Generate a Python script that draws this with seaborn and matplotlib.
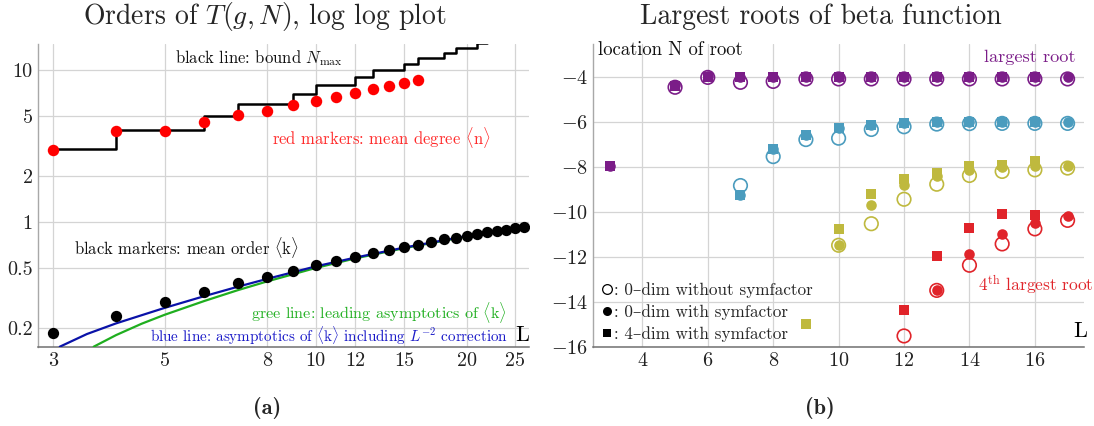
import numpy as np
import pandas as pd
import matplotlib
matplotlib.use("Agg")
import matplotlib.pyplot as plt
import seaborn as sns
from matplotlib.lines import Line2D
from matplotlib.ticker import FixedLocator, FixedFormatter, NullLocator, MultipleLocator

# ---------------- data, panel (a) ----------------
L_nmax = [3, 4, 5, 6, 7, 8, 9, 10, 11, 12, 13, 14, 15, 16, 17, 18, 19, 20, 21, 22]
N_max = [3, 4, 4, 5, 6, 6, 7, 8, 8, 9, 10, 10, 11, 12, 12, 13, 14, 14, 15, 15]

L_deg = [3, 4, 5, 6, 7, 8, 9, 10, 11, 12, 13, 14, 15, 16]
mean_degree = [2.98, 3.95, 3.95, 4.57, 5.08, 5.40, 5.91, 6.22, 6.68, 7.06, 7.46, 7.85, 8.17, 8.59]

L_ord = list(range(3, 27))
mean_order = [0.186, 0.242, 0.299, 0.348, 0.396, 0.437, 0.479, 0.519, 0.554, 0.589,
              0.623, 0.652, 0.682, 0.709, 0.739, 0.770, 0.789, 0.813, 0.838, 0.856,
              0.873, 0.890, 0.909, 0.931]

L_blue = [3.09, 3.5, 4, 5, 6, 7, 8, 10, 12, 15, 20, 26.6]
k_blue = [0.151, 0.183, 0.215, 0.272, 0.325, 0.375, 0.422, 0.510, 0.583, 0.678, 0.808, 0.935]

L_green = [3.61, 4, 4.5, 5, 6, 7, 8, 10, 12, 15, 20, 26.6]
k_green = [0.151, 0.180, 0.214, 0.245, 0.302, 0.356, 0.406, 0.498, 0.576, 0.672, 0.803, 0.930]

x_ticks_a = [3, 5, 8, 10, 12, 15, 20, 25]
y_ticks_a = [0.2, 0.5, 1, 2, 5, 10]
y_ticklabels_a = ["0.2", "0.5", "1", "2", "5", "10"]

# ---------------- data, panel (b) ----------------
nan = np.nan
L_b = list(range(3, 18))
root1_open = [nan, nan, -4.44, -4.00, -4.22, -4.18, -4.07, -4.07, -4.07, -4.07, -4.07, -4.07, -4.07, -4.07, -4.07]
root1_fill = [-7.97, nan, -4.34, -3.96, -4.00, -4.00, -4.00, -4.00, -4.00, -4.00, -4.00, -4.00, -4.00, -4.00, -4.00]
root1_sq = [-7.95, nan, -4.38, -3.97, -3.98, -3.98, -4.00, -4.00, -4.00, -4.00, -4.00, -4.00, -4.00, -4.00, nan]

root2_open = [nan, nan, nan, nan, -8.82, -7.53, -6.77, -6.71, -6.32, -6.20, -6.08, -6.06, -6.05, -6.05, -6.05]
root2_fill = [nan, nan, nan, nan, -9.22, -7.20, -6.55, -6.26, -6.10, -6.04, -6.01, -6.00, -6.00, -6.00, -6.00]
root2_sq = [nan, nan, nan, nan, -9.25, -7.17, -6.55, -6.24, -6.12, -6.02, -5.99, -5.99, -5.99, -5.99, nan]

root3_open = [nan, nan, nan, nan, nan, nan, nan, -11.48, -10.52, -9.43, -8.76, -8.37, -8.19, -8.12, -8.04]
root3_fill = [nan, nan, nan, nan, nan, nan, nan, -11.48, -9.68, -8.80, -8.40, -8.12, -8.01, -7.97, -7.97]
root3_sq = [nan, nan, nan, nan, nan, nan, -15.0, -10.75, -9.18, -8.52, -8.24, -7.94, -7.90, -7.72, nan]

root4_open = [nan, nan, nan, nan, nan, nan, nan, nan, nan, -15.52, -13.49, -12.37, -11.42, -10.75, -10.37]
root4_fill = [nan, nan, nan, nan, nan, nan, nan, nan, nan, nan, -13.46, -11.87, -11.00, -10.49, -10.19]
root4_sq = [nan, nan, nan, nan, nan, nan, nan, nan, nan, -14.37, -11.94, -10.71, -10.09, -10.15, nan]

# ---------------- style ----------------
sns.set_style("whitegrid")
plt.rcParams["font.family"] = ["cmr10", "DejaVu Serif"]
plt.rcParams["mathtext.fontset"] = "cm"
plt.rcParams["axes.formatter.use_mathtext"] = True
plt.rcParams["axes.unicode_minus"] = True

W, H = 1094, 426
fig = plt.figure(figsize=(W / 100, H / 100), dpi=100)


def fx(px):
    return px / W


def fy(py):
    return 1 - py / H


ax1 = fig.add_axes([0.0350, 0.1861, 0.4484, 0.7113])
ax2 = fig.add_axes([0.5423, 0.1861, 0.4485, 0.7113])

GRID = "#d4d4d4"
for ax in (ax1, ax2):
    ax.set_facecolor("white")
    ax.grid(True, color=GRID, lw=0.9)
    ax.set_axisbelow(True)
    for s in ("top", "right"):
        ax.spines[s].set_visible(False)
    ax.spines["left"].set_color("#a8a8a8")
    ax.spines["bottom"].set_color("#707070")
    ax.spines["left"].set_linewidth(1.0)
    ax.spines["bottom"].set_linewidth(1.1)
    ax.tick_params(length=0, labelsize=14.5, pad=4, colors="#222222")

# ---------------- panel (a) ----------------
sns.lineplot(x=L_nmax, y=N_max, ax=ax1, drawstyle="steps-post", color="black", lw=1.8, zorder=3)
sns.lineplot(x=L_green, y=k_green, ax=ax1, color="#1fae1f", lw=1.6, zorder=3, sort=False)
sns.lineplot(x=L_blue, y=k_blue, ax=ax1, color="#0a12a8", lw=1.6, zorder=3, sort=False)
sns.scatterplot(x=L_deg, y=mean_degree, ax=ax1, color="#ff0000", s=68, linewidth=0, zorder=4)
sns.scatterplot(x=L_ord, y=mean_order, ax=ax1, color="black", s=66, linewidth=0, zorder=4)

ax1.set_xscale("log")
ax1.set_yscale("log")
ax1.set_xlim(2.8, 26.6)
ax1.set_ylim(0.151, 14.9)
ax1.xaxis.set_major_locator(FixedLocator(x_ticks_a))
ax1.xaxis.set_major_formatter(FixedFormatter([str(v) for v in x_ticks_a]))
ax1.yaxis.set_major_locator(FixedLocator(y_ticks_a))
ax1.yaxis.set_major_formatter(FixedFormatter(y_ticklabels_a))
ax1.xaxis.set_minor_locator(NullLocator())
ax1.yaxis.set_minor_locator(NullLocator())
ax1.set_xlabel("")
ax1.set_ylabel("")

fig.text(fx(175), fy(58.5), r"black line: bound $N_{\max}$", fontsize=12, ha="left", va="center", color="#111111")
fig.text(fx(272.5), fy(137), r"red markers: mean degree $\langle\mathrm{n}\rangle$", fontsize=12, ha="left", va="center", color="#ff2a2a")
fig.text(fx(74), fy(248), r"black markers: mean order $\langle\mathrm{k}\rangle$", fontsize=12, ha="left", va="center", color="#111111")
fig.text(fx(251), fy(312.5), r"gree line: leading asymptotics of $\langle\mathrm{k}\rangle$", fontsize=11.6, ha="left", va="center", color="#22b022")
fig.text(fx(150.5), fy(336), r"blue line: asymptotics of $\langle\mathrm{k}\rangle$ including $L^{-2}$ correction", fontsize=10.9, ha="left", va="center", color="#1a1ac8")
fig.text(fx(515.5), fy(335.7), "L", fontsize=16, ha="left", va="center", color="black")

# ---------------- panel (b) ----------------
colors = ["#7b1d88", "#4b9cbe", "#bfb93e", "#e0242a"]
groups = [(root1_open, root1_fill, root1_sq),
          (root2_open, root2_fill, root2_sq),
          (root3_open, root3_fill, root3_sq),
          (root4_open, root4_fill, root4_sq)]
for c, (o, f, q) in zip(colors, groups):
    d = pd.DataFrame({"L": L_b, "open": o, "fill": f, "sq": q})
    sns.scatterplot(data=d, x="L", y="open", ax=ax2, marker="o", s=95,
                    facecolors="none", edgecolor=c, linewidth=1.2, zorder=3)
    sns.scatterplot(data=d, x="L", y="fill", ax=ax2, marker="o", s=58,
                    color=c, linewidth=0, zorder=4)
    sns.scatterplot(data=d, x="L", y="sq", ax=ax2, marker="s", s=60,
                    color=c, linewidth=0, zorder=5)

ax2.set_xlim(2.5, 17.5)
ax2.set_ylim(-16, -2.5)
ax2.xaxis.set_major_locator(MultipleLocator(2))
ax2.yaxis.set_major_locator(FixedLocator([-16, -14, -12, -10, -8, -6, -4]))
ax2.set_xlabel("")
ax2.set_ylabel("")

fig.text(fx(597.8), fy(50), "location N of root", fontsize=13.5, ha="left", va="center", color="#111111")
fig.text(fx(984), fy(57), "largest root", fontsize=13.2, ha="left", va="center", color=colors[0])
fig.text(fx(978), fy(284.8), r"4$^{\mathrm{th}}$ largest root", fontsize=12.5, ha="left", va="center", color=colors[3])
fig.text(fx(1073), fy(331.7), "L", fontsize=16, ha="left", va="center", color="black")

handles = [Line2D([], [], ls="", marker="o", ms=7, mfc="none", mec="black", mew=0.9),
           Line2D([], [], ls="", marker="o", ms=6.5, mfc="black", mec="black", mew=0),
           Line2D([], [], ls="", marker="s", ms=6, mfc="black", mec="black", mew=0)]
labels = [": 0\u2013dim without symfactor", ": 0\u2013dim with symfactor", ": 4\u2013dim with symfactor"]
ax2.legend(handles, labels, loc="upper left", bbox_to_anchor=(fx(603), fy(282)),
           bbox_transform=fig.transFigure, frameon=False, fontsize=12.3,
           handlelength=0.5, handletextpad=0.15, labelspacing=0.38, borderpad=0,
           borderaxespad=0)

# ---------------- titles & panel labels ----------------
fig.text(fx(265), fy(24), r"Orders of $T(g,N)$, log log plot", fontsize=20, ha="center", va="baseline")
fig.text(fx(821), fy(24), "Largest roots of beta function", fontsize=20, ha="center", va="baseline")
fig.text(fx(267), fy(408), "(a)", fontsize=16, ha="center", va="center", family="cmb10")
fig.text(fx(820), fy(408), "(b)", fontsize=16, ha="center", va="center", family="cmb10")

fig.savefig("out.png", dpi=100)
